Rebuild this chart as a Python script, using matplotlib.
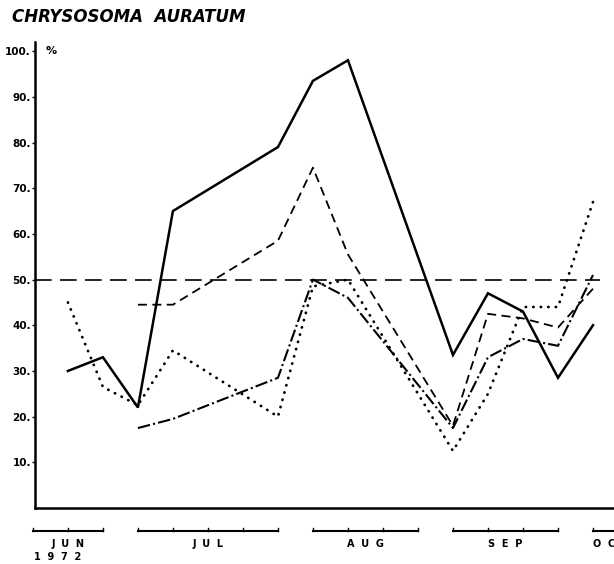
import matplotlib.pyplot as plt
import matplotlib.transforms as mtransforms

# недели от начала июня 1972 (0 = первая точка в июне)
weeks_solid = [0, 1, 2, 3, 6, 7, 8, 11, 12, 13, 14, 15]
solid = [30, 33, 22, 65, 79, 93.5, 98, 33.5, 47, 43, 28.5, 40]

weeks_dash = [2, 3, 6, 7, 8, 11, 12, 13, 14, 15]
dash = [44.5, 44.5, 58.5, 74.5, 55.5, 18, 42.5, 41.5, 39.5, 48]

weeks_dot = [0, 1, 2, 3, 6, 7, 8, 11, 12, 13, 14, 15]
dot = [45, 26.5, 22.5, 34.5, 20, 48.5, 50, 12.5, 25, 44, 44, 67]

weeks_dd = [2, 3, 6, 7, 8, 11, 12, 13, 14, 15]
dashdot = [17.5, 19.5, 28.5, 50, 46, 17.5, 33, 37, 35.5, 51]

yticks = [10, 20, 30, 40, 50, 60, 70, 80, 90, 100]
months = ["J  U  N", "J  U  L", "A  U  G", "S  E  P", "O  C"]
month_spans = [(-1.0, 1), (2, 6), (7, 10), (11, 14), (15, 15.8)]

fig = plt.figure(figsize=(6.14, 5.64), dpi=100)
ax = fig.add_axes([35 / 614, 56 / 564, 579 / 614, 466 / 564])
ax.set_xlim(-0.94, 15.6)
ax.set_ylim(0, 102)

ax.plot(weeks_solid, solid, color="black", lw=1.8, solid_joinstyle="miter")
ax.plot(weeks_dash, dash, color="black", lw=1.3, dashes=(5, 3))
ax.plot(weeks_dot, dot, color="black", lw=2.0, dashes=(0.1, 2.6), dash_capstyle="round")
ax.plot(weeks_dd, dashdot, color="black", lw=1.5, dashes=(6, 1.5, 1, 1.5))

# линия 50 %
ax.plot([-0.94, 15.2], [50, 50], color="black", lw=1.2, dashes=(10, 5))

for s in ["top", "right"]:
    ax.spines[s].set_visible(False)
ax.spines["left"].set_linewidth(1.8)
ax.spines["bottom"].set_linewidth(1.8)
ax.set_xticks([])
ax.set_yticks(yticks)
ax.set_yticklabels([f"{v}." for v in yticks], fontsize=7.5, fontweight="bold")
ax.tick_params(axis="y", length=2, width=1, pad=1)
ax.text(0.018, 100, "%", fontsize=8, fontweight="bold", va="center",
        transform=mtransforms.blended_transform_factory(ax.transAxes, ax.transData))

# месяцы под осью
trans = mtransforms.blended_transform_factory(ax.transData, ax.transAxes)
for name, (a, b) in zip(months, month_spans):
    ax.plot([a, b], [-0.049, -0.049], color="black", lw=1.5, transform=trans, clip_on=False)
    for w in range(int(a), int(b) + 1):
        if a <= w <= b:
            ax.plot([w, w], [-0.049, -0.043], color="black", lw=1, transform=trans, clip_on=False)
    if name == "O  C":
        ax.text(a, -0.078, name, fontsize=7, fontweight="bold", ha="left", va="center",
                transform=trans)
    else:
        ax.text((a + b) / 2, -0.078, name, fontsize=7, fontweight="bold", ha="center",
                va="center", transform=trans)
ax.text(-0.98, -0.106, "1  9  7  2", fontsize=7, fontweight="bold", ha="left", va="center",
        transform=trans)

fig.text(12 / 614, 1 - 17 / 564, "CHRYSOSOMA  AURATUM", fontsize=12, fontweight="bold",
         fontstyle="italic", ha="left", va="center")

fig.savefig("out.png", dpi=100)
